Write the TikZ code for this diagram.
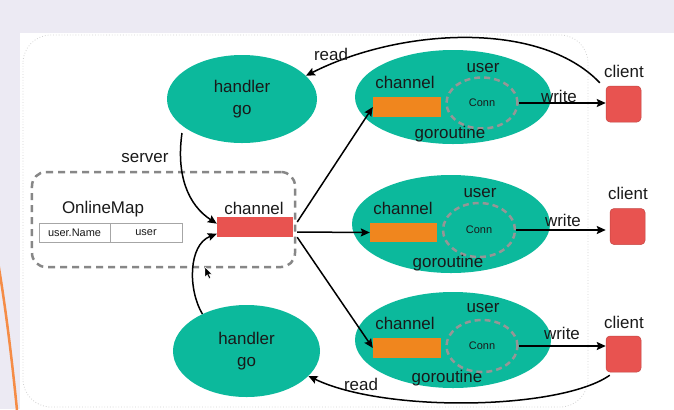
\documentclass[tikz,border=0pt]{standalone}
\usepackage{fontspec}
\setmainfont{Liberation Sans}
\usetikzlibrary{shapes.geometric,arrows.meta}
\definecolor{bgl}{RGB}{236,234,243}
\definecolor{tealc}{RGB}{12,185,156}
\definecolor{orng}{RGB}{240,134,30}
\definecolor{redc}{RGB}{232,83,80}
\definecolor{dgray}{RGB}{135,135,135}
\definecolor{cgray}{RGB}{150,150,150}
\definecolor{txt}{RGB}{25,25,25}
\definecolor{slideor}{RGB}{245,140,70}
\begin{document}
\begin{tikzpicture}[x=1bp,y=-1bp,
  lbl/.style={font=\fontsize{17}{20}\selectfont, text=txt, inner sep=0},
  small/.style={font=\fontsize{11}{13}\selectfont, text=txt, inner sep=0},
  hand/.style={ellipse, fill=tealc, inner sep=0, align=center, text=txt,
    font=\fontsize{17}{22}\selectfont},
  gor/.style={ellipse, fill=tealc, inner sep=0},
  chrect/.style={rectangle, fill=orng, inner sep=0, minimum width=68bp, minimum height=20bp},
  connc/.style={ellipse, draw=cgray, dash pattern=on 6bp off 4bp, line width=2.5bp,
    inner sep=0, minimum width=71bp, minimum height=51bp, font=\fontsize{11}{13}\selectfont, text=txt},
  clientbox/.style={rectangle, rounded corners=4bp, fill=redc, draw=redc!85!black, line width=0.5bp,
    inner sep=0, minimum width=35bp, minimum height=36bp},
  cell/.style={rectangle, draw=gray!70, line width=0.8bp, fill=white, inner sep=0,
    minimum height=19bp, font=\fontsize{11}{13}\selectfont, text=txt},
  arr/.style={-{Stealth[length=9bp,width=8bp,inset=1.5bp]}, line width=1.5bp, black}
]
\useasboundingbox (0,0) rectangle (674,409);
% background and panel
\fill[bgl] (0,0) rectangle (674,409);
\fill[white] (20,33) rectangle (674,409);
\draw[gray!35, dotted, line width=0.8bp, rounded corners=28bp] (23,35) rectangle (588,407);
\draw[slideor, line width=2.5bp] (-2,262) .. controls (6,310) and (12,360) .. (17,410);

% OnlineMap box
\node[rectangle, draw=dgray, dash pattern=on 7bp off 5bp, line width=2.5bp, rounded corners=14bp,
  minimum width=263bp, minimum height=95bp, inner sep=0] (map) at (163.5,219.5) {};
\node[lbl] (omlabel) at (103,209) {OnlineMap};
\node[cell, minimum width=71bp] (t1) at (74.5,232.5) {user.Name};
\node[cell, minimum width=72bp] (t2) at (146,232.5) {user};
\node[rectangle, fill=redc, inner sep=0, minimum width=76bp, minimum height=20bp] (chan) at (255,227) {};
\node[lbl] (chanlabel) at (254,208) {channel};

% handlers
\node[hand, minimum width=150bp, minimum height=88bp] (h1) at (242,99) {handler\\go};
\node[hand, minimum width=147bp, minimum height=92bp] (h2) at (246.5,351) {handler\\go};
\node[lbl] (srv) at (145,158) {server};

% goroutines
\node[gor, minimum width=196bp, minimum height=94bp] (g1) at (453,97) {};
\node[gor, minimum width=198bp, minimum height=98bp] (g2) at (451,224) {};
\node[gor, minimum width=196bp, minimum height=96bp] (g3) at (453,340) {};

\node[chrect] (ch1) at (407,107) {};
\node[chrect, minimum width=67bp, minimum height=19bp] (ch2) at (403.5,232.5) {};
\node[chrect] (ch3) at (407,348) {};
\node[lbl] (chl1) at (405,82) {channel};
\node[lbl] (chl2) at (403,208) {channel};
\node[lbl] (chl3) at (405,323) {channel};

\node[connc] (conn1) at (482,103) {Conn};
\node[connc, minimum width=72bp, minimum height=54bp] (conn2) at (479,230) {Conn};
\node[connc, minimum height=52bp] (conn3) at (482,346) {Conn};
\node[lbl] (u1) at (483,68) {user};
\node[lbl] (u2) at (480,193) {user};
\node[lbl] (u3) at (483,308) {user};
\node[lbl] (gr1) at (450,134) {goroutine};
\node[lbl] (gr2) at (448,263) {goroutine};
\node[lbl] (gr3) at (447,378) {goroutine};

% clients
\node[clientbox] (cl1) at (623.5,104) {};
\node[clientbox] (cl2) at (627.5,226.5) {};
\node[clientbox] (cl3) at (623.5,354) {};
\node[lbl] (cll1) at (624,71) {client};
\node[lbl] (cll2) at (628,193) {client};
\node[lbl] (cll3) at (624,322) {client};

% write arrows
\draw[arr] (conn1.east) -- (conn1.east -| cl1.west);
\draw[arr] (conn2.east) -- ([xshift=-4bp]conn2.east -| cl2.west);
\draw[arr] (conn3.east) -- (conn3.east -| cl3.west);
\node[lbl] (w1) at (559,96) {write};
\node[lbl] (w2) at (563,220) {write};
\node[lbl] (w3) at (562,333) {write};

% read arrows
\draw[arr] ([shift={(-6,-3)}]cl1.north west) .. controls (540,20) and (400,28) .. (h1.20);
\node[lbl] (r1) at (331,54) {read};
\draw[arr] ([shift={(4,3)}]cl3.south west) .. controls (560,410) and (385,413) .. (h2.-22);
\node[lbl] (r2) at (361,384) {read};

% server / handler to channel
\draw[arr] (182,133) .. controls (176,175) and (188,205) .. (chan.175);
\draw[arr] (h2.140) .. controls (188,290) and (188,245) .. (chan.190);

% channel to goroutines
\draw[arr] ([shift={(4,-5)}]chan.east) -- (ch1.west);
\draw[arr] ([shift={(4,5)}]chan.east) -- (ch2.west);
\draw[arr] ([shift={(4,0)}]chan.south east) -- (ch3.west);

% cursor
\fill[black, draw=white, line width=0.4bp] (205,267) -- (205,277) -- (207.3,274.8) -- (209,278.5) -- (210.6,277.8) -- (208.9,274.2) -- (212,274) -- cycle;
\end{tikzpicture}
\end{document}
